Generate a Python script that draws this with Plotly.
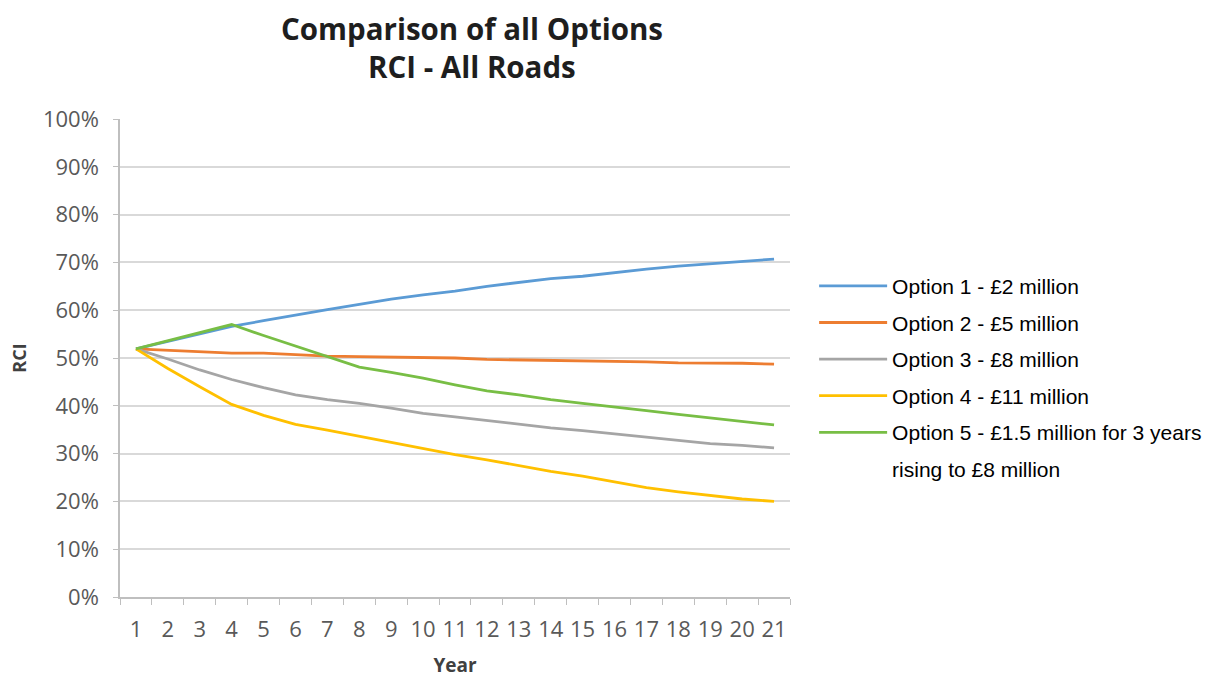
import plotly.graph_objects as go

# Year index along the x axis
years = [str(y) for y in range(1, 22)]

# Road Condition Index (%) per option
option1 = [51.9, 53.5, 55.1, 56.6, 57.8, 59.0, 60.1, 61.2, 62.3, 63.2, 64.0, 65.0,
           65.8, 66.6, 67.1, 67.9, 68.6, 69.2, 69.7, 70.2, 70.7]
option2 = [51.9, 51.6, 51.3, 51.0, 51.0, 50.7, 50.4, 50.3, 50.2, 50.0, 50.0, 49.7,
           49.6, 49.6, 49.5, 49.3, 49.2, 49.0, 49.0, 48.9, 48.7]
option3 = [51.9, 49.8, 47.5, 45.5, 43.8, 42.3, 41.3, 40.5, 39.5, 38.4, 37.7, 36.9,
           36.1, 35.4, 34.8, 34.1, 33.5, 32.7, 32.1, 31.7, 31.2]
option4 = [51.9, 47.8, 44.0, 40.3, 38.0, 36.1, 34.9, 33.6, 32.3, 31.1, 29.8, 28.7,
           27.5, 26.3, 25.3, 24.1, 22.9, 22.0, 21.2, 20.5, 20.0]
option5 = [51.9, 53.6, 55.4, 57.0, 54.7, 52.5, 50.3, 48.1, 47.0, 45.8, 44.4, 43.1,
           42.3, 41.3, 40.5, 39.8, 39.0, 38.2, 37.5, 36.7, 36.0]

series_names = [
    "Option 1 - £2 million",
    "Option 2 - £5 million",
    "Option 3 - £8 million",
    "Option 4 - £11 million",
    "Option 5 - £1.5 million for 3 years",
]
# continuation line of the last legend label
option5_label_cont = "rising to £8 million"
series_values = [option1, option2, option3, option4, option5]
colors = ["#5B9BD5", "#ED7D31", "#A5A5A5", "#FFC000", "#78BE45"]

fig = go.Figure()
for i, (name, vals, col) in enumerate(zip(series_names, series_values, colors)):
    fig.add_trace(go.Scatter(
        x=years, y=vals, mode="lines", name=name,
        line=dict(color=col, width=2.8),
        legendgroup=f"g{i}",
    ))

# legend-only row carrying the second line of the Option 5 label
fig.add_trace(go.Scatter(
    x=[None], y=[None], mode="lines", name=option5_label_cont,
    line=dict(color="rgba(0,0,0,0)", width=0),
    legendgroup="g5", hoverinfo="skip",
))

axis_font = dict(family="Open Sans, DejaVu Sans, sans-serif", size=22, color="#595959")
title_font = dict(family="Open Sans, sans-serif", size=29.5, color="#1E1E1E")

fig.update_layout(
    width=1221, height=679,
    margin=dict(l=120, r=431, t=119, b=82),
    paper_bgcolor="white", plot_bgcolor="white",
    showlegend=True,
    legend=dict(
        x=1.036, xanchor="left", y=0.693, yanchor="top",
        font=dict(family="Liberation Sans, Arial, sans-serif", size=21, color="#000000"),
        valign="middle", tracegroupgap=6.3, itemwidth=68,
    ),
    xaxis=dict(
        type="category", range=[-0.5, 20.5], automargin=False,
        showgrid=False, showline=True, linecolor="#BFBFBF", linewidth=1.5,
        ticks="outside", ticklen=6, tickcolor="#BFBFBF", tickwidth=1.3,
        tickson="boundaries", tickfont=axis_font, tickangle=0, ticklabelstandoff=12,
        title=dict(text="<b>Year</b>", font=dict(family="Open Sans, sans-serif", size=19,
                                                  color="#404040"), standoff=17),
    ),
    yaxis=dict(
        range=[0, 100], dtick=10, ticksuffix="%", automargin=False,
        showgrid=True, gridcolor="#D9D9D9", gridwidth=1.5,
        showline=True, linecolor="#BFBFBF", linewidth=1.5,
        ticks="outside", ticklen=5, tickcolor="#BFBFBF", tickwidth=1.3,
        tickfont=axis_font, zeroline=False, ticklabelstandoff=10,
        title=dict(text="<b>RCI</b>", font=dict(family="Open Sans, sans-serif", size=18,
                                                 color="#404040"), standoff=12),
    ),
    annotations=[
        dict(text="<b>Comparison of all Options</b>", xref="paper", yref="paper",
             x=(472 - 120) / 670, y=1 + (119 - 28) / 478, xanchor="center", yanchor="middle",
             showarrow=False, font=title_font),
        dict(text="<b>RCI - All Roads</b>", xref="paper", yref="paper",
             x=(472 - 120) / 670, y=1 + (119 - 66) / 478, xanchor="center", yanchor="middle",
             showarrow=False, font=title_font),
    ],
)

fig.write_html("out.html")
